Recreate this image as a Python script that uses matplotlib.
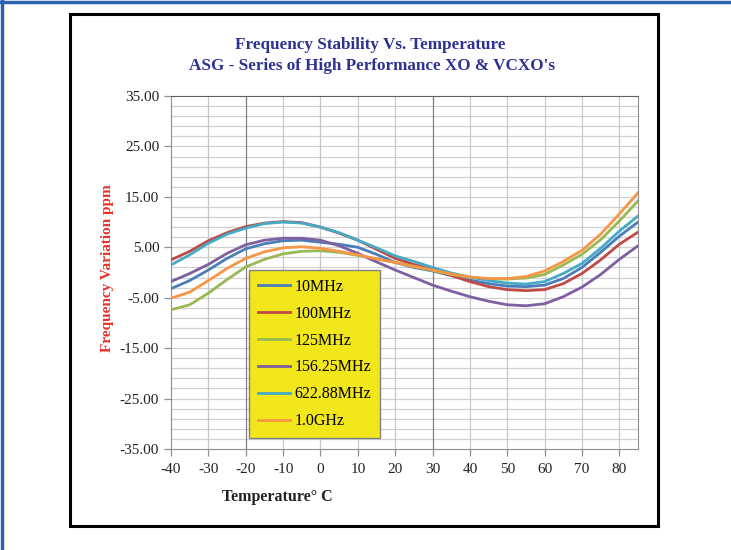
import matplotlib.pyplot as plt
from matplotlib.patches import Rectangle
from matplotlib.lines import Line2D

## data
temp = [-40, -35, -30, -25, -20, -15, -10, -5, 0, 5, 10, 15, 20, 25, 30,
        35, 40, 45, 50, 55, 60, 65, 70, 75, 80, 85]

f_10MHz = [-3.2, -1.6, 0.5, 2.8, 4.7, 5.7, 6.3, 6.4, 6.0, 5.6, 5.0, 3.6, 2.0,
           1.0, 0.3, -0.6, -1.5, -2.2, -2.7, -2.8, -2.5, -1.2, 1.0, 4.0, 7.2, 10.0]
f_100MHz = [2.5, 4.2, 6.3, 7.9, 9.1, 9.8, 10.1, 9.9, 9.0, 7.8, 6.4, 4.6, 2.8,
            1.6, 0.6, -0.6, -1.8, -2.8, -3.4, -3.6, -3.4, -2.2, -0.2, 2.5, 5.6, 8.0]
f_125MHz = [-7.4, -6.4, -4.1, -1.4, 1.1, 2.6, 3.7, 4.2, 4.3, 4.0, 3.4, 2.7, 2.0,
            1.2, 0.4, -0.4, -1.0, -1.3, -1.3, -1.1, -0.4, 1.5, 3.6, 6.5, 10.2, 14.2]
f_156MHz = [-1.8, -0.2, 1.6, 3.8, 5.5, 6.4, 6.8, 6.8, 6.4, 5.3, 3.8, 2.1, 0.5,
            -1.0, -2.5, -3.7, -4.8, -5.7, -6.4, -6.6, -6.2, -4.8, -2.9, -0.4, 2.6, 5.3]
f_622MHz = [1.5, 3.5, 5.8, 7.6, 8.8, 9.7, 10.0, 9.8, 9.0, 7.9, 6.4, 4.9, 3.3,
            2.2, 1.0, -0.1, -0.9, -1.6, -2.1, -2.3, -1.8, -0.2, 1.8, 4.8, 8.2, 11.2]
f_1GHz = [-5.1, -3.9, -1.6, 0.8, 2.8, 4.1, 4.9, 5.1, 4.8, 4.2, 3.5, 2.7, 2.0,
          1.2, 0.5, -0.3, -0.9, -1.2, -1.2, -0.8, 0.3, 2.2, 4.4, 7.6, 11.6, 15.8]

labels = ['10MHz', '100MHz', '125MHz', '156.25MHz', '622.88MHz', '1.0GHz']
series = [f_10MHz, f_100MHz, f_125MHz, f_156MHz, f_622MHz, f_1GHz]
colors = ['#4a7ebb', '#be4b48', '#98b954', '#7d60a0', '#46aac5', '#f79646']

xticks = list(range(-40, 81, 10))
yticks = [-35, -25, -15, -5, 5, 15, 25, 35]

plt.rcParams['font.family'] = ['Liberation Serif', 'DejaVu Serif']
plt.rcParams['axes.unicode_minus'] = False

fig = plt.figure(figsize=(7.31, 5.5), dpi=100)
W, H = 731.0, 550.0

# outer frame lines and black box
fig.add_artist(Line2D([0, 1], [1 - 1.5 / H, 1 - 1.5 / H], color='#2a62b0', lw=2.5))
fig.add_artist(Line2D([2 / W, 2 / W], [0, 1], color='#2a62b0', lw=2.5))
fig.add_artist(Rectangle((70 / W, 1 - 526 / H), (658 - 70) / W, (526 - 14) / H,
                         fill=False, ec='black', lw=2.2))

ax = fig.add_axes([171 / W, 1 - 449 / H, (638 - 171) / W, (449 - 96) / H])

for i in range(len(series)):
    ax.plot(temp, series[i], color=colors[i], lw=2, label=labels[i], zorder=3)

ax.set_xlim(-40, 85)
ax.set_ylim(-35, 35)
ax.set_xticks(xticks)
ax.set_yticks(yticks)
ax.set_yticklabels(['%.2f' % v for v in yticks])

# grid
for y in range(-33, 35, 2):
    ax.axhline(y, color='#d0d0d0', lw=0.9, zorder=1)
for x in xticks[1:]:
    c = '#808080' if x in (-20, 30) else '#c8c8c8'
    ax.axvline(x, color=c, lw=0.9, zorder=1)

for s in ['left', 'bottom', 'right', 'top']:
    ax.spines[s].set_color('#909090')
ax.spines['top'].set_color('#606060')
ax.tick_params(axis='both', colors='#909090', length=5, width=0.9,
               labelcolor='#222222', labelsize=11)
ax.tick_params(axis='x', pad=5)

ax.legend(loc='upper left', bbox_to_anchor=(249 / W, 1 - 270 / H),
          bbox_transform=fig.transFigure, borderaxespad=0, frameon=True,
          fancybox=False, facecolor='#f2e71a', edgecolor='#808080',
          framealpha=1, fontsize=11.5, handlelength=2.0, handletextpad=0.3,
          labelspacing=0.68, borderpad=0.55)

fig.text(370 / W, 1 - 45 / H, 'Frequency Stability Vs. Temperature',
         ha='center', va='center', color='#2e3192', fontsize=12.3,
         fontweight='bold')
fig.text(372 / W, 1 - 66 / H, "ASG - Series of High Performance XO & VCXO's",
         ha='center', va='center', color='#2e3192', fontsize=12.3,
         fontweight='bold')
fig.text(107 / W, 1 - 268 / H, 'Frequency Variation ppm', rotation=90,
         ha='center', va='center', color='#e8312a', fontsize=11,
         fontweight='bold')
fig.text(277 / W, 1 - 497 / H, 'Temperature° C', ha='center', va='center',
         color='#222222', fontsize=11.5, fontweight='bold')

fig.savefig('out.png', dpi=100, facecolor='white')
